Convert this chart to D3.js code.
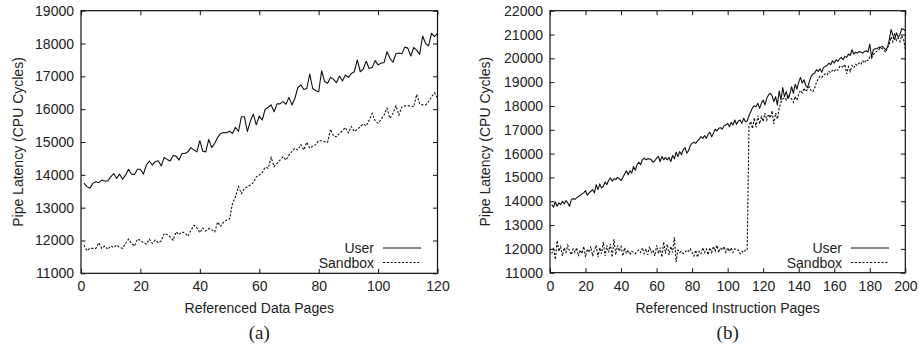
<!DOCTYPE html>
<html>
<head>
<meta charset="utf-8">
<script src="https://cdn.jsdelivr.net/npm/d3@7"></script>
<style>
  body { margin: 0; background: #fff; }
  svg { display: block; }
  text { font-family: "Liberation Sans", Arial, Helvetica, sans-serif; fill: #222; }
  .caption { font-family: "Liberation Serif", "Times New Roman", serif; }
</style>
</head>
<body>
<svg id="chart" width="919" height="347"></svg>
<script>
// ---- Panel (a): referenced data pages 1..120 ----
const dataPages = d3.range(1, 121);
const dataUser = [
  13750,13640,13590,13740,13790,13760,13840,13810,13810,13940,
  14040,13890,14020,13870,13990,14170,14020,14010,14170,14170,
  14020,14300,14420,14300,14400,14430,14270,14530,14470,14420,
  14590,14570,14450,14650,14650,14700,14830,14760,14700,15040,
  14720,14700,15080,14830,14960,15140,15260,15290,15280,15330,
  15260,15450,15320,15770,15770,15320,15630,15850,15520,15790,
  15670,16000,16060,16130,15920,16160,16160,16230,16150,16360,
  16130,16330,16660,16740,16600,16630,17070,16630,16560,16530,
  17170,16840,16790,16970,16910,16810,17010,16860,17040,16970,
  17090,17140,17500,17140,17220,17460,17240,17270,17480,17350,
  17400,17420,17750,17550,17430,17690,17710,17690,17890,17860,
  17620,17880,17800,17670,18230,18000,17930,18310,18210,18310
];
const dataSandbox = [
  11860,11690,11760,11760,11760,11930,11760,11830,11730,11830,
  11790,11860,11790,11760,11910,12040,11910,11830,12040,12010,
  11930,11890,12040,11910,12010,11930,11990,12210,12180,12110,
  12010,12260,12180,12260,12230,12130,12310,12460,12390,12240,
  12380,12290,12360,12330,12260,12560,12430,12560,12620,12650,
  13130,13330,13640,13430,13590,13640,13690,13760,13940,13990,
  14070,14230,14200,14530,14250,14350,14450,14550,14450,14600,
  14710,14810,14760,14920,14760,14990,14810,14870,14920,15040,
  15040,15010,14990,15390,15180,15160,15260,15340,15440,15280,
  15470,15320,15390,15470,15550,15490,15670,15870,15650,15570,
  15690,15820,16030,15720,15870,16100,15820,16070,16100,16100,
  16100,16070,16450,16170,16130,16130,16230,16380,16500,16330
];
const dataXTicks = [0, 20, 40, 60, 80, 100, 120];
const dataYTicks = [11000, 12000, 13000, 14000, 15000, 16000, 17000, 18000, 19000];

// ---- Panel (b): referenced instruction pages 1..200 ----
const instrPages = d3.range(1, 201);
const instrUser = [
  13860,13750,13970,13790,13930,13860,14000,13890,14030,13930,
  13790,14070,14110,14080,14140,14200,14250,14310,14350,14450,
  14250,14350,14420,14490,14350,14700,14490,14730,14560,14630,
  14810,14700,14870,14980,14840,14950,14910,15000,14950,14870,
  15000,15140,15280,15110,15280,15180,15460,15300,15530,15640,
  15530,15740,15810,15740,15780,15780,15740,15640,15700,15810,
  15880,15670,15880,15740,15840,15740,15840,15670,15920,15780,
  16060,15880,16090,15950,16160,16250,16020,16120,16340,16430,
  16480,16430,16530,16610,16710,16640,16760,16640,16810,16900,
  16710,16850,17030,16950,17060,17090,17030,17170,17200,17270,
  17130,17310,17200,17410,17230,17370,17410,17270,17480,17340,
  17370,17590,17760,17930,18010,17970,18110,17900,18110,18250,
  18040,18320,18460,18530,18430,18180,18390,18040,18630,18250,
  18770,18390,18600,18320,18490,18810,18530,18910,18710,19000,
  19200,18960,19100,18860,18770,19020,19240,19340,19380,19520,
  19450,19560,19420,19620,19660,19700,19800,19730,19900,19800,
  19940,19870,19980,20040,19940,20080,20040,20180,20120,20360,
  20180,20260,20220,20290,20260,20220,20290,20320,20260,20600,
  20040,20360,20400,20400,20460,20460,20500,20430,20360,20460,
  20790,21210,20970,20790,21070,20890,21000,21250,21210,21170
];
const instrSandbox = [
  11800,12050,11550,12350,11900,12100,11700,12050,11850,12150,
  11900,11750,12000,11850,12050,11700,11950,11800,12100,11650,
  12000,11850,12100,11700,11950,12150,11650,12050,11800,12300,
  11700,12150,11850,12200,11650,12400,11750,12150,11900,12100,
  11700,12050,11800,11950,11750,11900,11850,11800,11900,11950,
  11850,12050,11800,12000,11750,12100,11850,11950,11700,12150,
  11800,12050,11650,12300,11800,12200,11750,12100,11850,12500,
  11450,11950,11850,11900,11800,11850,11950,11900,12000,11850,
  11700,11950,11650,11900,11800,12050,11850,12000,11750,12050,
  11850,12100,11900,12150,11850,12050,11950,12100,11850,12050,
  11900,12050,11850,12000,11950,11950,11800,11900,11850,11950,
  11950,17150,17350,17050,17500,17100,17600,17250,17550,17350,
  17700,17400,17650,17500,17800,17250,17700,17450,17900,18150,
  18300,18350,18250,18450,18350,18300,18150,18400,18250,18500,
  18650,18550,18750,18600,18700,18800,18650,18600,18750,19000,
  19150,19250,19200,19300,19350,19300,19450,19400,19500,19450,
  19550,19500,19650,19700,19600,19750,19350,19650,19450,19700,
  19600,19750,19700,19800,19750,19900,19800,19950,19900,20050,
  20000,20150,20250,20300,20350,20450,20400,20350,20250,20450,
  20600,20900,20700,21050,20750,20850,20700,20950,20800,20400
];
const instrXTicks = [0, 20, 40, 60, 80, 100, 120, 140, 160, 180, 200];
const instrYTicks = [11000, 12000, 13000, 14000, 15000, 16000, 17000, 18000, 19000, 20000, 21000, 22000];

const seriesNames = ["User", "Sandbox"];
const yTitle = "Pipe Latency (CPU Cycles)";

const svg = d3.select("#chart");
svg.append("rect").attr("width", 919).attr("height", 347).attr("fill", "#fff");

const FONT = 14;
const TICK = 4.5;

function drawPanel(opt) {
  const g = svg.append("g");
  const x = d3.scaleLinear().domain(opt.xDomain).range([opt.left, opt.right]);
  const y = d3.scaleLinear().domain(opt.yDomain).range([opt.bottom, opt.top]);

  // inward ticks on all four sides
  const axB = g.append("g").attr("transform", `translate(0,${opt.bottom})`)
    .call(d3.axisBottom(x).tickValues(opt.xTicks).tickSize(-TICK).tickPadding(8));
  const axT = g.append("g").attr("transform", `translate(0,${opt.top})`)
    .call(d3.axisTop(x).tickValues(opt.xTicks).tickSize(-TICK).tickFormat(""));
  const axL = g.append("g").attr("transform", `translate(${opt.left},0)`)
    .call(d3.axisLeft(y).tickValues(opt.yTicks).tickSize(-TICK).tickPadding(7).tickFormat(d3.format("d")));
  const axR = g.append("g").attr("transform", `translate(${opt.right},0)`)
    .call(d3.axisRight(y).tickValues(opt.yTicks).tickSize(-TICK).tickFormat(""));
  [axB, axT, axL, axR].forEach(a => {
    a.select(".domain").remove();
    a.selectAll(".tick line").attr("stroke", "#111").attr("stroke-width", 1);
    a.selectAll("text").attr("font-size", FONT).attr("fill", "#222")
      .attr("font-family", '"Liberation Sans", Arial, sans-serif');
  });

  // frame
  g.append("rect")
    .attr("x", opt.left).attr("y", opt.top)
    .attr("width", opt.right - opt.left).attr("height", opt.bottom - opt.top)
    .attr("fill", "none").attr("stroke", "#111").attr("stroke-width", 1.2);

  const line = d3.line().x(d => x(d[0])).y(d => y(d[1]));
  g.append("path")
    .datum(opt.xs.map((v, i) => [v, opt.user[i]]))
    .attr("d", line).attr("fill", "none").attr("stroke", "#111")
    .attr("stroke-width", 1.1).attr("stroke-linejoin", "round");
  g.append("path")
    .datum(opt.xs.map((v, i) => [v, opt.sandbox[i]]))
    .attr("d", line).attr("fill", "none").attr("stroke", "#111")
    .attr("stroke-width", 1.1).attr("stroke-dasharray", "2.2,1.6");

  // legend
  const leg = g.append("g");
  seriesNames.forEach((name, i) => {
    const ly = opt.legendY + i * 14.5;
    leg.append("text").attr("x", opt.legendX).attr("y", ly + 5)
      .attr("text-anchor", "end").attr("font-size", FONT).text(name);
    leg.append("line")
      .attr("x1", opt.legendX + 9).attr("x2", opt.legendX + 47)
      .attr("y1", ly).attr("y2", ly)
      .attr("stroke", "#111").attr("stroke-width", 1)
      .attr("stroke-dasharray", i === 0 ? null : "2.2,1.6");
  });

  // axis titles and caption
  const cx = (opt.left + opt.right) / 2;
  g.append("text").attr("x", cx).attr("y", 313).attr("text-anchor", "middle")
    .attr("font-size", FONT).text(opt.xTitle);
  g.append("text")
    .attr("transform", `translate(${opt.yTitleX},${(opt.top + opt.bottom) / 2}) rotate(-90)`)
    .attr("text-anchor", "middle").attr("dy", "0.35em")
    .attr("font-size", FONT).text(yTitle);
  g.append("text").attr("class", "caption").attr("x", cx).attr("y", 339)
    .attr("text-anchor", "middle").attr("font-size", 19).text(opt.caption);
}

drawPanel({
  left: 81, right: 437.5, top: 10.7, bottom: 273.3,
  xDomain: [0, 120], yDomain: [11000, 19000],
  xTicks: dataXTicks, yTicks: dataYTicks,
  xs: dataPages, user: dataUser, sandbox: dataSandbox,
  legendX: 374, legendY: 248,
  xTitle: "Referenced Data Pages", yTitleX: 18, caption: "(a)"
});

drawPanel({
  left: 550, right: 905.3, top: 10.7, bottom: 272.7,
  xDomain: [0, 200], yDomain: [11000, 22000],
  xTicks: instrXTicks, yTicks: instrYTicks,
  xs: instrPages, user: instrUser, sandbox: instrSandbox,
  legendX: 842, legendY: 248,
  xTitle: "Referenced Instruction Pages", yTitleX: 485, caption: "(b)"
});
</script>
</body>
</html>
